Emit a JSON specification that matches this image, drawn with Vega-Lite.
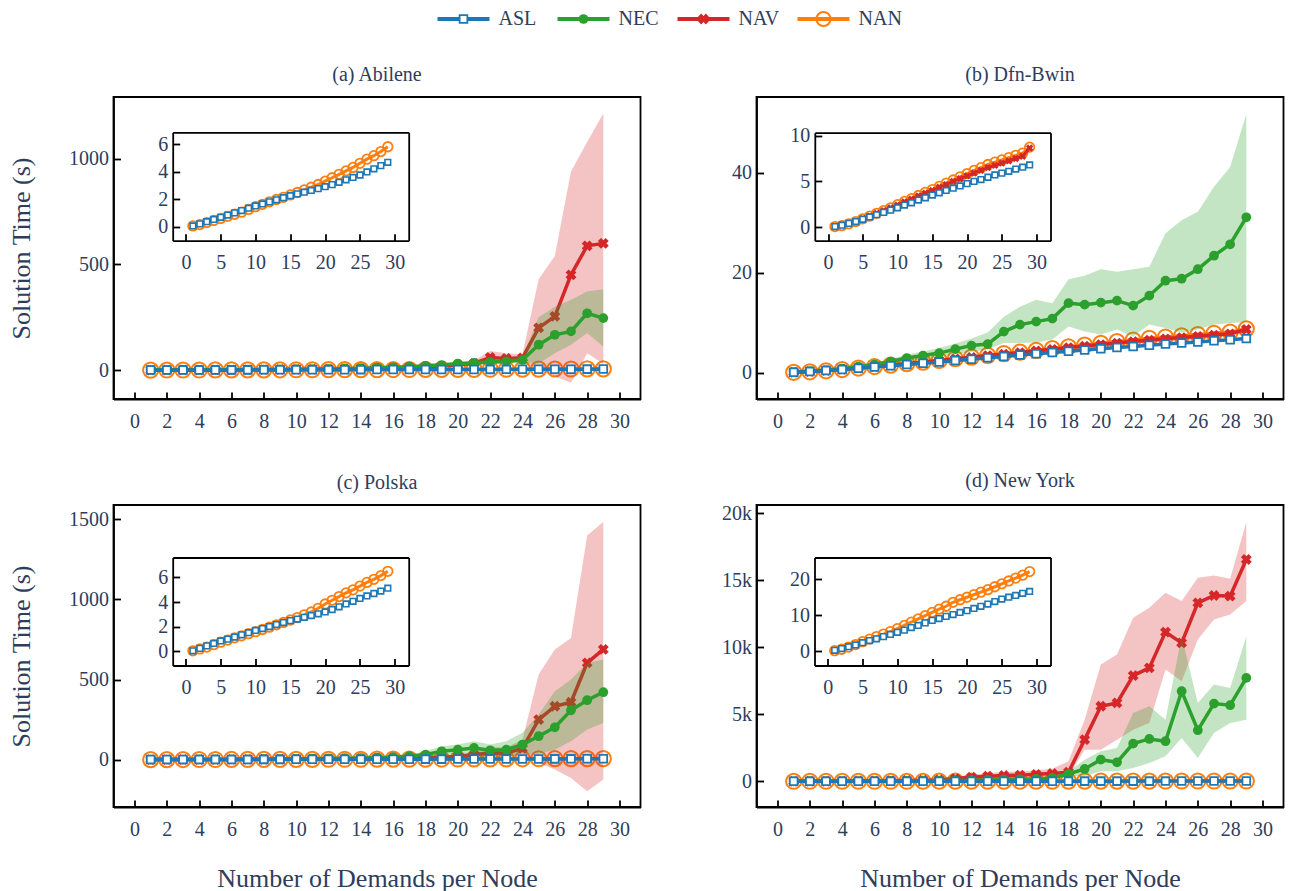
{
"$schema":"https://vega.github.io/schema/vega-lite/v6.json",
"background":"white",
"padding":{"left":7.5,"top":7,"right":5,"bottom":5},
"config":{
 "font":"Liberation Serif",
 "view":{"stroke":"black","strokeWidth":1.8},
 "axis":{"grid":false,"domainColor":"black","domainWidth":1.8,"tickColor":"black","tickWidth":1.8,"tickSize":-7,"labelColor":"#2e3d5c","labelFontSize":20,"labelFont":"Liberation Serif","titleColor":"#2e3d5c","titleFontSize":26,"titleFont":"Liberation Serif","titleFontWeight":"normal","labelOverlap":false,"labelFlush":false,"format":"d"},
 "axisX":{"labelPadding":19,"titlePadding":26},
 "axisY":{"labelPadding":12,"titlePadding":34},
 "title":{"fontSize":20,"fontWeight":"normal","color":"#2e3d5c","font":"Liberation Serif","offset":12}
},
"datasets":{"d":[
{"p":"a","s":"ASL","x":1,"y":0.05},{"p":"a","s":"ASL","x":2,"y":0.2},{"p":"a","s":"ASL","x":3,"y":0.36},{"p":"a","s":"ASL","x":4,"y":0.52},{"p":"a","s":"ASL","x":5,"y":0.68},{"p":"a","s":"ASL","x":6,"y":0.84},{"p":"a","s":"ASL","x":7,"y":1.0},{"p":"a","s":"ASL","x":8,"y":1.17},{"p":"a","s":"ASL","x":9,"y":1.34},{"p":"a","s":"ASL","x":10,"y":1.5},{"p":"a","s":"ASL","x":11,"y":1.65},{"p":"a","s":"ASL","x":12,"y":1.8},{"p":"a","s":"ASL","x":13,"y":1.95},{"p":"a","s":"ASL","x":14,"y":2.1},{"p":"a","s":"ASL","x":15,"y":2.25},{"p":"a","s":"ASL","x":16,"y":2.38},{"p":"a","s":"ASL","x":17,"y":2.5},{"p":"a","s":"ASL","x":18,"y":2.63},{"p":"a","s":"ASL","x":19,"y":2.76},{"p":"a","s":"ASL","x":20,"y":2.9},{"p":"a","s":"ASL","x":21,"y":3.05},{"p":"a","s":"ASL","x":22,"y":3.22},{"p":"a","s":"ASL","x":23,"y":3.4},{"p":"a","s":"ASL","x":24,"y":3.57},{"p":"a","s":"ASL","x":25,"y":3.75},{"p":"a","s":"ASL","x":26,"y":3.97},{"p":"a","s":"ASL","x":27,"y":4.2},{"p":"a","s":"ASL","x":28,"y":4.43},{"p":"a","s":"ASL","x":29,"y":4.67},
{"p":"a","s":"NAN","x":1,"y":0.05},{"p":"a","s":"NAN","x":2,"y":0.15},{"p":"a","s":"NAN","x":3,"y":0.3},{"p":"a","s":"NAN","x":4,"y":0.45},{"p":"a","s":"NAN","x":5,"y":0.6},{"p":"a","s":"NAN","x":6,"y":0.75},{"p":"a","s":"NAN","x":7,"y":0.9},{"p":"a","s":"NAN","x":8,"y":1.05},{"p":"a","s":"NAN","x":9,"y":1.25},{"p":"a","s":"NAN","x":10,"y":1.45},{"p":"a","s":"NAN","x":11,"y":1.62},{"p":"a","s":"NAN","x":12,"y":1.8},{"p":"a","s":"NAN","x":13,"y":1.97},{"p":"a","s":"NAN","x":14,"y":2.13},{"p":"a","s":"NAN","x":15,"y":2.3},{"p":"a","s":"NAN","x":16,"y":2.48},{"p":"a","s":"NAN","x":17,"y":2.67},{"p":"a","s":"NAN","x":18,"y":2.86},{"p":"a","s":"NAN","x":19,"y":3.06},{"p":"a","s":"NAN","x":20,"y":3.3},{"p":"a","s":"NAN","x":21,"y":3.55},{"p":"a","s":"NAN","x":22,"y":3.8},{"p":"a","s":"NAN","x":23,"y":4.05},{"p":"a","s":"NAN","x":24,"y":4.3},{"p":"a","s":"NAN","x":25,"y":4.6},{"p":"a","s":"NAN","x":26,"y":4.9},{"p":"a","s":"NAN","x":27,"y":5.15},{"p":"a","s":"NAN","x":28,"y":5.45},{"p":"a","s":"NAN","x":29,"y":5.8},
{"p":"a","s":"NEC","x":1,"y":0.05,"lo":0.03,"hi":0.08},{"p":"a","s":"NEC","x":2,"y":0.2,"lo":0.1,"hi":0.3},{"p":"a","s":"NEC","x":3,"y":0.4,"lo":0.25,"hi":0.6},{"p":"a","s":"NEC","x":4,"y":0.7,"lo":0.45,"hi":1},{"p":"a","s":"NEC","x":5,"y":1,"lo":0.7,"hi":1.4},{"p":"a","s":"NEC","x":6,"y":1.4,"lo":1,"hi":2},{"p":"a","s":"NEC","x":7,"y":1.9,"lo":1.3,"hi":2.7},{"p":"a","s":"NEC","x":8,"y":2.5,"lo":1.7,"hi":3.5},{"p":"a","s":"NEC","x":9,"y":3.2,"lo":2.2,"hi":4.5},{"p":"a","s":"NEC","x":10,"y":4,"lo":2.8,"hi":5.6},{"p":"a","s":"NEC","x":11,"y":5,"lo":3.5,"hi":7},{"p":"a","s":"NEC","x":12,"y":6,"lo":4.2,"hi":8.5},{"p":"a","s":"NEC","x":13,"y":7.5,"lo":5.2,"hi":10.5},{"p":"a","s":"NEC","x":14,"y":9,"lo":6.3,"hi":12.6},{"p":"a","s":"NEC","x":15,"y":11,"lo":7.7,"hi":15},{"p":"a","s":"NEC","x":16,"y":13,"lo":9,"hi":18},{"p":"a","s":"NEC","x":17,"y":16,"lo":11,"hi":22},{"p":"a","s":"NEC","x":18,"y":20,"lo":14,"hi":28},{"p":"a","s":"NEC","x":19,"y":24,"lo":17,"hi":33},{"p":"a","s":"NEC","x":20,"y":30,"lo":21,"hi":40},{"p":"a","s":"NEC","x":21,"y":34,"lo":24,"hi":46},{"p":"a","s":"NEC","x":22,"y":38,"lo":27,"hi":52},{"p":"a","s":"NEC","x":23,"y":41,"lo":30,"hi":55},{"p":"a","s":"NEC","x":24,"y":48,"lo":36,"hi":62},{"p":"a","s":"NEC","x":25,"y":120,"lo":30,"hi":250},{"p":"a","s":"NEC","x":26,"y":167,"lo":80,"hi":300},{"p":"a","s":"NEC","x":27,"y":183,"lo":120,"hi":333},{"p":"a","s":"NEC","x":28,"y":269,"lo":175,"hi":372},{"p":"a","s":"NEC","x":29,"y":246,"lo":110,"hi":383},
{"p":"a","s":"NAV","x":1,"y":0.05,"lo":0.03,"hi":0.08},{"p":"a","s":"NAV","x":2,"y":0.15,"lo":0.1,"hi":0.22},{"p":"a","s":"NAV","x":3,"y":0.3,"lo":0.2,"hi":0.45},{"p":"a","s":"NAV","x":4,"y":0.5,"lo":0.35,"hi":0.7},{"p":"a","s":"NAV","x":5,"y":0.8,"lo":0.55,"hi":1.1},{"p":"a","s":"NAV","x":6,"y":1.1,"lo":0.8,"hi":1.5},{"p":"a","s":"NAV","x":7,"y":1.5,"lo":1,"hi":2.1},{"p":"a","s":"NAV","x":8,"y":2,"lo":1.4,"hi":2.8},{"p":"a","s":"NAV","x":9,"y":2.5,"lo":1.8,"hi":3.5},{"p":"a","s":"NAV","x":10,"y":3.1,"lo":2.2,"hi":4.3},{"p":"a","s":"NAV","x":11,"y":3.8,"lo":2.7,"hi":5.3},{"p":"a","s":"NAV","x":12,"y":4.6,"lo":3.2,"hi":6.5},{"p":"a","s":"NAV","x":13,"y":5.5,"lo":3.9,"hi":7.7},{"p":"a","s":"NAV","x":14,"y":6.5,"lo":4.6,"hi":9},{"p":"a","s":"NAV","x":15,"y":8,"lo":5.6,"hi":11},{"p":"a","s":"NAV","x":16,"y":10,"lo":7,"hi":14},{"p":"a","s":"NAV","x":17,"y":12,"lo":8.5,"hi":17},{"p":"a","s":"NAV","x":18,"y":15,"lo":10.5,"hi":21},{"p":"a","s":"NAV","x":19,"y":19,"lo":13,"hi":27},{"p":"a","s":"NAV","x":20,"y":25,"lo":17,"hi":35},{"p":"a","s":"NAV","x":21,"y":32,"lo":22,"hi":45},{"p":"a","s":"NAV","x":22,"y":60,"lo":35,"hi":90},{"p":"a","s":"NAV","x":23,"y":55,"lo":30,"hi":80},{"p":"a","s":"NAV","x":24,"y":58,"lo":40,"hi":75},{"p":"a","s":"NAV","x":25,"y":200,"lo":0,"hi":430},{"p":"a","s":"NAV","x":26,"y":254,"lo":-30,"hi":540},{"p":"a","s":"NAV","x":27,"y":451,"lo":-60,"hi":940},{"p":"a","s":"NAV","x":28,"y":588,"lo":80,"hi":1080},{"p":"a","s":"NAV","x":29,"y":600,"lo":30,"hi":1215},
{"p":"b","s":"ASL","x":1,"y":0.05},{"p":"b","s":"ASL","x":2,"y":0.2},{"p":"b","s":"ASL","x":3,"y":0.4},{"p":"b","s":"ASL","x":4,"y":0.6},{"p":"b","s":"ASL","x":5,"y":0.85},{"p":"b","s":"ASL","x":6,"y":1.1},{"p":"b","s":"ASL","x":7,"y":1.35},{"p":"b","s":"ASL","x":8,"y":1.6},{"p":"b","s":"ASL","x":9,"y":1.85},{"p":"b","s":"ASL","x":10,"y":2.1},{"p":"b","s":"ASL","x":11,"y":2.4},{"p":"b","s":"ASL","x":12,"y":2.65},{"p":"b","s":"ASL","x":13,"y":2.95},{"p":"b","s":"ASL","x":14,"y":3.2},{"p":"b","s":"ASL","x":15,"y":3.5},{"p":"b","s":"ASL","x":16,"y":3.75},{"p":"b","s":"ASL","x":17,"y":4},{"p":"b","s":"ASL","x":18,"y":4.25},{"p":"b","s":"ASL","x":19,"y":4.5},{"p":"b","s":"ASL","x":20,"y":4.75},{"p":"b","s":"ASL","x":21,"y":5},{"p":"b","s":"ASL","x":22,"y":5.2},{"p":"b","s":"ASL","x":23,"y":5.45},{"p":"b","s":"ASL","x":24,"y":5.7},{"p":"b","s":"ASL","x":25,"y":5.9},{"p":"b","s":"ASL","x":26,"y":6.1},{"p":"b","s":"ASL","x":27,"y":6.35},{"p":"b","s":"ASL","x":28,"y":6.55},{"p":"b","s":"ASL","x":29,"y":6.8},
{"p":"b","s":"NAN","x":1,"y":0.05},{"p":"b","s":"NAN","x":2,"y":0.15},{"p":"b","s":"NAN","x":3,"y":0.35},{"p":"b","s":"NAN","x":4,"y":0.6},{"p":"b","s":"NAN","x":5,"y":0.9},{"p":"b","s":"NAN","x":6,"y":1.2},{"p":"b","s":"NAN","x":7,"y":1.5},{"p":"b","s":"NAN","x":8,"y":1.8},{"p":"b","s":"NAN","x":9,"y":2.1},{"p":"b","s":"NAN","x":10,"y":2.45},{"p":"b","s":"NAN","x":11,"y":2.8},{"p":"b","s":"NAN","x":12,"y":3.1},{"p":"b","s":"NAN","x":13,"y":3.45},{"p":"b","s":"NAN","x":14,"y":3.8},{"p":"b","s":"NAN","x":15,"y":4.1},{"p":"b","s":"NAN","x":16,"y":4.45},{"p":"b","s":"NAN","x":17,"y":4.8},{"p":"b","s":"NAN","x":18,"y":5.15},{"p":"b","s":"NAN","x":19,"y":5.5},{"p":"b","s":"NAN","x":20,"y":5.85},{"p":"b","s":"NAN","x":21,"y":6.2},{"p":"b","s":"NAN","x":22,"y":6.5},{"p":"b","s":"NAN","x":23,"y":6.85},{"p":"b","s":"NAN","x":24,"y":7.1},{"p":"b","s":"NAN","x":25,"y":7.35},{"p":"b","s":"NAN","x":26,"y":7.6},{"p":"b","s":"NAN","x":27,"y":7.85},{"p":"b","s":"NAN","x":28,"y":8.1},{"p":"b","s":"NAN","x":29,"y":8.75},
{"p":"b","s":"NAV","x":1,"y":0.05,"lo":0.04,"hi":0.06},{"p":"b","s":"NAV","x":2,"y":0.2,"lo":0.18,"hi":0.22},{"p":"b","s":"NAV","x":3,"y":0.4,"lo":0.37,"hi":0.43},{"p":"b","s":"NAV","x":4,"y":0.65,"lo":0.6,"hi":0.7},{"p":"b","s":"NAV","x":5,"y":0.9,"lo":0.84,"hi":0.96},{"p":"b","s":"NAV","x":6,"y":1.2,"lo":1.12,"hi":1.28},{"p":"b","s":"NAV","x":7,"y":1.5,"lo":1.4,"hi":1.6},{"p":"b","s":"NAV","x":8,"y":1.8,"lo":1.67,"hi":1.93},{"p":"b","s":"NAV","x":9,"y":2.1,"lo":1.95,"hi":2.25},{"p":"b","s":"NAV","x":10,"y":2.4,"lo":2.23,"hi":2.57},{"p":"b","s":"NAV","x":11,"y":2.75,"lo":2.56,"hi":2.94},{"p":"b","s":"NAV","x":12,"y":3.05,"lo":2.84,"hi":3.26},{"p":"b","s":"NAV","x":13,"y":3.4,"lo":3.16,"hi":3.64},{"p":"b","s":"NAV","x":14,"y":3.7,"lo":3.44,"hi":3.96},{"p":"b","s":"NAV","x":15,"y":4,"lo":3.72,"hi":4.28},{"p":"b","s":"NAV","x":16,"y":4.35,"lo":4.05,"hi":4.65},{"p":"b","s":"NAV","x":17,"y":4.65,"lo":4.32,"hi":4.98},{"p":"b","s":"NAV","x":18,"y":5,"lo":4.65,"hi":5.35},{"p":"b","s":"NAV","x":19,"y":5.3,"lo":4.93,"hi":5.67},{"p":"b","s":"NAV","x":20,"y":5.6,"lo":5.21,"hi":5.99},{"p":"b","s":"NAV","x":21,"y":5.9,"lo":5.49,"hi":6.31},{"p":"b","s":"NAV","x":22,"y":6.2,"lo":5.77,"hi":6.63},{"p":"b","s":"NAV","x":23,"y":6.5,"lo":6.05,"hi":6.95},{"p":"b","s":"NAV","x":24,"y":6.75,"lo":6.28,"hi":7.22},{"p":"b","s":"NAV","x":25,"y":7,"lo":6.51,"hi":7.49},{"p":"b","s":"NAV","x":26,"y":7.25,"lo":6.74,"hi":7.76},{"p":"b","s":"NAV","x":27,"y":7.5,"lo":6.98,"hi":8.02},{"p":"b","s":"NAV","x":28,"y":7.75,"lo":7.21,"hi":8.29},{"p":"b","s":"NAV","x":29,"y":8.65,"lo":8.04,"hi":9.26},
{"p":"b","s":"NEC","x":1,"y":0.1,"lo":0.05,"hi":0.2},{"p":"b","s":"NEC","x":2,"y":0.3,"lo":0.2,"hi":0.4},{"p":"b","s":"NEC","x":3,"y":0.5,"lo":0.4,"hi":0.65},{"p":"b","s":"NEC","x":4,"y":0.8,"lo":0.6,"hi":1},{"p":"b","s":"NEC","x":5,"y":1.2,"lo":0.9,"hi":1.5},{"p":"b","s":"NEC","x":6,"y":1.6,"lo":1.2,"hi":2},{"p":"b","s":"NEC","x":7,"y":2.2,"lo":1.7,"hi":2.7},{"p":"b","s":"NEC","x":8,"y":2.9,"lo":2.2,"hi":3.6},{"p":"b","s":"NEC","x":9,"y":3.4,"lo":2.6,"hi":4.2},{"p":"b","s":"NEC","x":10,"y":3.9,"lo":3,"hi":4.9},{"p":"b","s":"NEC","x":11,"y":4.7,"lo":3.6,"hi":5.8},{"p":"b","s":"NEC","x":12,"y":5.4,"lo":4.1,"hi":6.8},{"p":"b","s":"NEC","x":13,"y":5.7,"lo":4.6,"hi":8},{"p":"b","s":"NEC","x":14,"y":8.2,"lo":5.9,"hi":11.2},{"p":"b","s":"NEC","x":15,"y":9.6,"lo":5.9,"hi":13.2},{"p":"b","s":"NEC","x":16,"y":10.2,"lo":6,"hi":14.6},{"p":"b","s":"NEC","x":17,"y":10.8,"lo":6.6,"hi":13.9},{"p":"b","s":"NEC","x":18,"y":13.9,"lo":9.2,"hi":18.7},{"p":"b","s":"NEC","x":19,"y":13.6,"lo":8.2,"hi":19.4},{"p":"b","s":"NEC","x":20,"y":14,"lo":7.6,"hi":20.7},{"p":"b","s":"NEC","x":21,"y":14.4,"lo":8.6,"hi":20.2},{"p":"b","s":"NEC","x":22,"y":13.4,"lo":7.2,"hi":20.7},{"p":"b","s":"NEC","x":23,"y":15.4,"lo":9.6,"hi":21.2},{"p":"b","s":"NEC","x":24,"y":18.4,"lo":8.9,"hi":27.9},{"p":"b","s":"NEC","x":25,"y":18.8,"lo":8,"hi":30.5},{"p":"b","s":"NEC","x":26,"y":20.7,"lo":8.6,"hi":32.2},{"p":"b","s":"NEC","x":27,"y":23.4,"lo":9.6,"hi":37.2},{"p":"b","s":"NEC","x":28,"y":25.7,"lo":9.9,"hi":41.2},{"p":"b","s":"NEC","x":29,"y":31.1,"lo":10.2,"hi":51.8},
{"p":"c","s":"ASL","x":1,"y":0.05},{"p":"c","s":"ASL","x":2,"y":0.25},{"p":"c","s":"ASL","x":3,"y":0.45},{"p":"c","s":"ASL","x":4,"y":0.65},{"p":"c","s":"ASL","x":5,"y":0.85},{"p":"c","s":"ASL","x":6,"y":1},{"p":"c","s":"ASL","x":7,"y":1.17},{"p":"c","s":"ASL","x":8,"y":1.35},{"p":"c","s":"ASL","x":9,"y":1.52},{"p":"c","s":"ASL","x":10,"y":1.7},{"p":"c","s":"ASL","x":11,"y":1.86},{"p":"c","s":"ASL","x":12,"y":2.02},{"p":"c","s":"ASL","x":13,"y":2.18},{"p":"c","s":"ASL","x":14,"y":2.34},{"p":"c","s":"ASL","x":15,"y":2.5},{"p":"c","s":"ASL","x":16,"y":2.63},{"p":"c","s":"ASL","x":17,"y":2.77},{"p":"c","s":"ASL","x":18,"y":2.91},{"p":"c","s":"ASL","x":19,"y":3.05},{"p":"c","s":"ASL","x":20,"y":3.2},{"p":"c","s":"ASL","x":21,"y":3.4},{"p":"c","s":"ASL","x":22,"y":3.62},{"p":"c","s":"ASL","x":23,"y":3.85},{"p":"c","s":"ASL","x":24,"y":4.07},{"p":"c","s":"ASL","x":25,"y":4.3},{"p":"c","s":"ASL","x":26,"y":4.5},{"p":"c","s":"ASL","x":27,"y":4.7},{"p":"c","s":"ASL","x":28,"y":4.9},{"p":"c","s":"ASL","x":29,"y":5.13},
{"p":"c","s":"NAN","x":1,"y":0.05},{"p":"c","s":"NAN","x":2,"y":0.2},{"p":"c","s":"NAN","x":3,"y":0.35},{"p":"c","s":"NAN","x":4,"y":0.55},{"p":"c","s":"NAN","x":5,"y":0.75},{"p":"c","s":"NAN","x":6,"y":0.92},{"p":"c","s":"NAN","x":7,"y":1.1},{"p":"c","s":"NAN","x":8,"y":1.27},{"p":"c","s":"NAN","x":9,"y":1.44},{"p":"c","s":"NAN","x":10,"y":1.6},{"p":"c","s":"NAN","x":11,"y":1.78},{"p":"c","s":"NAN","x":12,"y":1.97},{"p":"c","s":"NAN","x":13,"y":2.16},{"p":"c","s":"NAN","x":14,"y":2.35},{"p":"c","s":"NAN","x":15,"y":2.55},{"p":"c","s":"NAN","x":16,"y":2.75},{"p":"c","s":"NAN","x":17,"y":2.97},{"p":"c","s":"NAN","x":18,"y":3.2},{"p":"c","s":"NAN","x":19,"y":3.5},{"p":"c","s":"NAN","x":20,"y":3.85},{"p":"c","s":"NAN","x":21,"y":4.15},{"p":"c","s":"NAN","x":22,"y":4.45},{"p":"c","s":"NAN","x":23,"y":4.75},{"p":"c","s":"NAN","x":24,"y":5},{"p":"c","s":"NAN","x":25,"y":5.3},{"p":"c","s":"NAN","x":26,"y":5.6},{"p":"c","s":"NAN","x":27,"y":5.85},{"p":"c","s":"NAN","x":28,"y":6.15},{"p":"c","s":"NAN","x":29,"y":6.5},
{"p":"c","s":"NEC","x":1,"y":0.05,"lo":0.03,"hi":0.08},{"p":"c","s":"NEC","x":2,"y":0.2,"lo":0.1,"hi":0.3},{"p":"c","s":"NEC","x":3,"y":0.4,"lo":0.25,"hi":0.6},{"p":"c","s":"NEC","x":4,"y":0.7,"lo":0.45,"hi":1},{"p":"c","s":"NEC","x":5,"y":1,"lo":0.7,"hi":1.4},{"p":"c","s":"NEC","x":6,"y":1.5,"lo":1,"hi":2.1},{"p":"c","s":"NEC","x":7,"y":2,"lo":1.4,"hi":2.8},{"p":"c","s":"NEC","x":8,"y":2.7,"lo":1.9,"hi":3.8},{"p":"c","s":"NEC","x":9,"y":3.5,"lo":2.4,"hi":4.9},{"p":"c","s":"NEC","x":10,"y":4.5,"lo":3.1,"hi":6.3},{"p":"c","s":"NEC","x":11,"y":5.5,"lo":3.8,"hi":7.7},{"p":"c","s":"NEC","x":12,"y":7,"lo":4.9,"hi":9.8},{"p":"c","s":"NEC","x":13,"y":8.5,"lo":6,"hi":12},{"p":"c","s":"NEC","x":14,"y":10,"lo":7,"hi":14},{"p":"c","s":"NEC","x":15,"y":12,"lo":8.4,"hi":17},{"p":"c","s":"NEC","x":16,"y":15,"lo":10.5,"hi":21},{"p":"c","s":"NEC","x":17,"y":22,"lo":15,"hi":31},{"p":"c","s":"NEC","x":18,"y":31,"lo":10,"hi":52},{"p":"c","s":"NEC","x":19,"y":52,"lo":12,"hi":83},{"p":"c","s":"NEC","x":20,"y":62,"lo":15,"hi":94},{"p":"c","s":"NEC","x":21,"y":73,"lo":21,"hi":115},{"p":"c","s":"NEC","x":22,"y":58,"lo":10,"hi":94},{"p":"c","s":"NEC","x":23,"y":62,"lo":21,"hi":115},{"p":"c","s":"NEC","x":24,"y":94,"lo":35,"hi":167},{"p":"c","s":"NEC","x":25,"y":146,"lo":35,"hi":281},{"p":"c","s":"NEC","x":26,"y":202,"lo":62,"hi":427},{"p":"c","s":"NEC","x":27,"y":308,"lo":115,"hi":500},{"p":"c","s":"NEC","x":28,"y":371,"lo":188,"hi":604},{"p":"c","s":"NEC","x":29,"y":421,"lo":229,"hi":625},
{"p":"c","s":"NAV","x":1,"y":0.05,"lo":0.03,"hi":0.07},{"p":"c","s":"NAV","x":2,"y":0.2,"lo":0.14,"hi":0.28},{"p":"c","s":"NAV","x":3,"y":0.4,"lo":0.28,"hi":0.56},{"p":"c","s":"NAV","x":4,"y":0.6,"lo":0.42,"hi":0.84},{"p":"c","s":"NAV","x":5,"y":0.9,"lo":0.63,"hi":1.26},{"p":"c","s":"NAV","x":6,"y":1.2,"lo":0.84,"hi":1.68},{"p":"c","s":"NAV","x":7,"y":1.6,"lo":1.1,"hi":2.24},{"p":"c","s":"NAV","x":8,"y":2,"lo":1.4,"hi":2.8},{"p":"c","s":"NAV","x":9,"y":2.5,"lo":1.75,"hi":3.5},{"p":"c","s":"NAV","x":10,"y":3,"lo":2.1,"hi":4.2},{"p":"c","s":"NAV","x":11,"y":3.6,"lo":2.5,"hi":5},{"p":"c","s":"NAV","x":12,"y":4.3,"lo":3,"hi":6},{"p":"c","s":"NAV","x":13,"y":5,"lo":3.5,"hi":7},{"p":"c","s":"NAV","x":14,"y":6,"lo":4.2,"hi":8.4},{"p":"c","s":"NAV","x":15,"y":7,"lo":4.9,"hi":9.8},{"p":"c","s":"NAV","x":16,"y":8,"lo":5.6,"hi":11.2},{"p":"c","s":"NAV","x":17,"y":10,"lo":7,"hi":14},{"p":"c","s":"NAV","x":18,"y":12,"lo":8.4,"hi":16.8},{"p":"c","s":"NAV","x":19,"y":15,"lo":10.5,"hi":21},{"p":"c","s":"NAV","x":20,"y":20,"lo":14,"hi":28},{"p":"c","s":"NAV","x":21,"y":30,"lo":15,"hi":50},{"p":"c","s":"NAV","x":22,"y":42,"lo":20,"hi":80},{"p":"c","s":"NAV","x":23,"y":40,"lo":15,"hi":75},{"p":"c","s":"NAV","x":24,"y":70,"lo":21,"hi":125},{"p":"c","s":"NAV","x":25,"y":250,"lo":-21,"hi":531},{"p":"c","s":"NAV","x":26,"y":333,"lo":-62,"hi":688},{"p":"c","s":"NAV","x":27,"y":358,"lo":-115,"hi":760},{"p":"c","s":"NAV","x":28,"y":604,"lo":-198,"hi":1400},{"p":"c","s":"NAV","x":29,"y":688,"lo":-125,"hi":1484},
{"p":"d","s":"ASL","x":1,"y":0.3},{"p":"d","s":"ASL","x":2,"y":0.8},{"p":"d","s":"ASL","x":3,"y":1.3},{"p":"d","s":"ASL","x":4,"y":1.8},{"p":"d","s":"ASL","x":5,"y":2.4},{"p":"d","s":"ASL","x":6,"y":3},{"p":"d","s":"ASL","x":7,"y":3.5},{"p":"d","s":"ASL","x":8,"y":4.1},{"p":"d","s":"ASL","x":9,"y":4.7},{"p":"d","s":"ASL","x":10,"y":5.3},{"p":"d","s":"ASL","x":11,"y":5.9},{"p":"d","s":"ASL","x":12,"y":6.6},{"p":"d","s":"ASL","x":13,"y":7.2},{"p":"d","s":"ASL","x":14,"y":7.9},{"p":"d","s":"ASL","x":15,"y":8.6},{"p":"d","s":"ASL","x":16,"y":9.1},{"p":"d","s":"ASL","x":17,"y":9.7},{"p":"d","s":"ASL","x":18,"y":10.2},{"p":"d","s":"ASL","x":19,"y":10.8},{"p":"d","s":"ASL","x":20,"y":11.3},{"p":"d","s":"ASL","x":21,"y":11.9},{"p":"d","s":"ASL","x":22,"y":12.5},{"p":"d","s":"ASL","x":23,"y":13.1},{"p":"d","s":"ASL","x":24,"y":13.8},{"p":"d","s":"ASL","x":25,"y":14.5},{"p":"d","s":"ASL","x":26,"y":15},{"p":"d","s":"ASL","x":27,"y":15.5},{"p":"d","s":"ASL","x":28,"y":16.1},{"p":"d","s":"ASL","x":29,"y":16.6},
{"p":"d","s":"NAN","x":1,"y":0.2},{"p":"d","s":"NAN","x":2,"y":0.6},{"p":"d","s":"NAN","x":3,"y":1.2},{"p":"d","s":"NAN","x":4,"y":1.9},{"p":"d","s":"NAN","x":5,"y":2.7},{"p":"d","s":"NAN","x":6,"y":3.4},{"p":"d","s":"NAN","x":7,"y":4.1},{"p":"d","s":"NAN","x":8,"y":4.8},{"p":"d","s":"NAN","x":9,"y":5.5},{"p":"d","s":"NAN","x":10,"y":6.3},{"p":"d","s":"NAN","x":11,"y":7.2},{"p":"d","s":"NAN","x":12,"y":8.1},{"p":"d","s":"NAN","x":13,"y":9},{"p":"d","s":"NAN","x":14,"y":9.9},{"p":"d","s":"NAN","x":15,"y":10.8},{"p":"d","s":"NAN","x":16,"y":11.7},{"p":"d","s":"NAN","x":17,"y":12.5},{"p":"d","s":"NAN","x":18,"y":13.6},{"p":"d","s":"NAN","x":19,"y":14.3},{"p":"d","s":"NAN","x":20,"y":15},{"p":"d","s":"NAN","x":21,"y":15.7},{"p":"d","s":"NAN","x":22,"y":16.4},{"p":"d","s":"NAN","x":23,"y":17.1},{"p":"d","s":"NAN","x":24,"y":17.9},{"p":"d","s":"NAN","x":25,"y":18.7},{"p":"d","s":"NAN","x":26,"y":19.5},{"p":"d","s":"NAN","x":27,"y":20.3},{"p":"d","s":"NAN","x":28,"y":21.1},{"p":"d","s":"NAN","x":29,"y":22.1},
{"p":"d","s":"NEC","x":1,"y":1,"lo":0.7,"hi":1.5},{"p":"d","s":"NEC","x":2,"y":3,"lo":2,"hi":4.5},{"p":"d","s":"NEC","x":3,"y":6,"lo":4,"hi":9},{"p":"d","s":"NEC","x":4,"y":10,"lo":7,"hi":15},{"p":"d","s":"NEC","x":5,"y":15,"lo":10,"hi":22},{"p":"d","s":"NEC","x":6,"y":20,"lo":14,"hi":30},{"p":"d","s":"NEC","x":7,"y":28,"lo":20,"hi":42},{"p":"d","s":"NEC","x":8,"y":36,"lo":25,"hi":54},{"p":"d","s":"NEC","x":9,"y":45,"lo":31,"hi":68},{"p":"d","s":"NEC","x":10,"y":55,"lo":38,"hi":82},{"p":"d","s":"NEC","x":11,"y":70,"lo":49,"hi":105},{"p":"d","s":"NEC","x":12,"y":85,"lo":60,"hi":128},{"p":"d","s":"NEC","x":13,"y":100,"lo":70,"hi":150},{"p":"d","s":"NEC","x":14,"y":120,"lo":84,"hi":180},{"p":"d","s":"NEC","x":15,"y":150,"lo":105,"hi":225},{"p":"d","s":"NEC","x":16,"y":180,"lo":126,"hi":270},{"p":"d","s":"NEC","x":17,"y":250,"lo":175,"hi":375},{"p":"d","s":"NEC","x":18,"y":546,"lo":374,"hi":747},{"p":"d","s":"NEC","x":19,"y":920,"lo":374,"hi":1615},{"p":"d","s":"NEC","x":20,"y":1615,"lo":747,"hi":2242},{"p":"d","s":"NEC","x":21,"y":1420,"lo":747,"hi":2489},{"p":"d","s":"NEC","x":22,"y":2810,"lo":994,"hi":5105},{"p":"d","s":"NEC","x":23,"y":3162,"lo":1368,"hi":5605},{"p":"d","s":"NEC","x":24,"y":2990,"lo":1868,"hi":4604},{"p":"d","s":"NEC","x":25,"y":6726,"lo":3236,"hi":10837},{"p":"d","s":"NEC","x":26,"y":3811,"lo":1741,"hi":5852},{"p":"d","s":"NEC","x":27,"y":5800,"lo":3610,"hi":7220},{"p":"d","s":"NEC","x":28,"y":5680,"lo":4357,"hi":6973},{"p":"d","s":"NEC","x":29,"y":7720,"lo":4604,"hi":10837},
{"p":"d","s":"NAV","x":1,"y":1,"lo":0.6,"hi":1.6},{"p":"d","s":"NAV","x":2,"y":3,"lo":1.8,"hi":4.8},{"p":"d","s":"NAV","x":3,"y":6,"lo":3.6,"hi":9.6},{"p":"d","s":"NAV","x":4,"y":10,"lo":6,"hi":16},{"p":"d","s":"NAV","x":5,"y":20,"lo":12,"hi":32},{"p":"d","s":"NAV","x":6,"y":30,"lo":18,"hi":48},{"p":"d","s":"NAV","x":7,"y":45,"lo":27,"hi":72},{"p":"d","s":"NAV","x":8,"y":60,"lo":36,"hi":96},{"p":"d","s":"NAV","x":9,"y":80,"lo":48,"hi":128},{"p":"d","s":"NAV","x":10,"y":100,"lo":60,"hi":160},{"p":"d","s":"NAV","x":11,"y":200,"lo":120,"hi":320},{"p":"d","s":"NAV","x":12,"y":300,"lo":180,"hi":480},{"p":"d","s":"NAV","x":13,"y":380,"lo":228,"hi":608},{"p":"d","s":"NAV","x":14,"y":430,"lo":258,"hi":688},{"p":"d","s":"NAV","x":15,"y":460,"lo":276,"hi":736},{"p":"d","s":"NAV","x":16,"y":520,"lo":312,"hi":832},{"p":"d","s":"NAV","x":17,"y":580,"lo":348,"hi":928},{"p":"d","s":"NAV","x":18,"y":680,"lo":374,"hi":1495},{"p":"d","s":"NAV","x":19,"y":3109,"lo":2362,"hi":4604},{"p":"d","s":"NAV","x":20,"y":5605,"lo":2362,"hi":8715},{"p":"d","s":"NAV","x":21,"y":5852,"lo":3109,"hi":9462},{"p":"d","s":"NAV","x":22,"y":7893,"lo":3856,"hi":12205},{"p":"d","s":"NAV","x":23,"y":8468,"lo":4360,"hi":12952},{"p":"d","s":"NAV","x":24,"y":11136,"lo":8341,"hi":14073},{"p":"d","s":"NAV","x":25,"y":10336,"lo":7474,"hi":13453},{"p":"d","s":"NAV","x":26,"y":13326,"lo":10583,"hi":15195},{"p":"d","s":"NAV","x":27,"y":13872,"lo":12078,"hi":15367},{"p":"d","s":"NAV","x":28,"y":13827,"lo":12452,"hi":15120},{"p":"d","s":"NAV","x":29,"y":16563,"lo":13453,"hi":19357}
]},
"bounds":"flush",
"spacing":68,
"vconcat":[
{
 "data":{"values":[{"s":"ASL"},{"s":"NEC"},{"s":"NAV"},{"s":"NAN"}]},
 "width":1170,"height":20,
 "view":{"stroke":null},
 "encoding":{"x":{"field":"s","type":"nominal","scale":{"domain":["ASL","NEC","NAV","NAN"],"range":[290,770],"paddingInner":0,"paddingOuter":0},"axis":null}},
 "layer":[
  {"mark":{"type":"tick","orient":"horizontal","size":52,"thickness":4,"opacity":1},"encoding":{"color":{"field":"s","type":"nominal","scale":{"domain":["ASL","NEC","NAV","NAN"],"range":["#1f77b4","#2ca02c","#d62728","#ff7f0e"]},"legend":null}}},
  {"transform":[{"filter":"datum.s == 'ASL'"}],"mark":{"type":"point","shape":"square","filled":true,"fill":"white","stroke":"#1f77b4","strokeWidth":1.8,"size":60,"opacity":1}},
  {"transform":[{"filter":"datum.s == 'NEC'"}],"mark":{"type":"point","shape":"circle","filled":true,"color":"#2ca02c","size":95,"opacity":1}},
  {"transform":[{"filter":"datum.s == 'NAV'"}],"mark":{"type":"point","shape":"cross","angle":45,"filled":true,"color":"#d62728","size":120,"opacity":1}},
  {"transform":[{"filter":"datum.s == 'NAN'"}],"mark":{"type":"point","shape":"circle","filled":false,"color":"#ff7f0e","strokeWidth":2,"size":200,"opacity":1}},
  {"mark":{"type":"text","align":"left","baseline":"middle","dx":35,"fontSize":20,"color":"#2e3d5c"},"encoding":{"text":{"field":"s"}}}
 ]
},
{
 "columns":2,
 "bounds":"flush",
 "spacing":{"row":106,"column":116},
 "concat":[
 {
  "title":{"text":"(a) Abilene"},
  "width":527,"height":302,
  "data":{"name":"d"},
  "transform":[{"filter":"datum.p == 'a'"}],
  "layer":[
   {
    "encoding":{"x":{"field":"x","type":"quantitative","scale":{"domain":[-1.3,31.3],"nice":false,"zero":false},"axis":{"orient":"bottom","values":[0,2,4,6,8,10,12,14,16,18,20,22,24,26,28,30],"title":null}}},
    "layer":[
     {"transform":[{"filter":"datum.s == 'NAN'"}],"mark":{"type":"line","color":"#ff7f0e","strokeWidth":3.5,"point":{"shape":"circle","filled":false,"color":"#ff7f0e","strokeWidth":2,"size":230,"opacity":1}},"encoding":{"y":{"field":"y","type":"quantitative","scale":{"domain":[-137,1293],"nice":false,"zero":false},"axis":{"orient":"left","values":[0,500,1000],"title":"Solution Time (s)"}}}},
     {"transform":[{"filter":"datum.s == 'NAV'"}],"mark":{"type":"area","color":"#d62728","opacity":0.28},"encoding":{"y":{"field":"lo","type":"quantitative","scale":{"domain":[-137,1293],"nice":false,"zero":false},"axis":{"orient":"left","values":[0,500,1000],"title":"Solution Time (s)"}},"y2":{"field":"hi"}}},
     {"transform":[{"filter":"datum.s == 'NAV'"}],"mark":{"type":"line","color":"#d62728","strokeWidth":3.5,"point":{"shape":"cross","angle":45,"filled":true,"color":"#d62728","size":120,"opacity":1}},"encoding":{"y":{"field":"y","type":"quantitative","scale":{"domain":[-137,1293],"nice":false,"zero":false},"axis":{"orient":"left","values":[0,500,1000],"title":"Solution Time (s)"}}}},
     {"transform":[{"filter":"datum.s == 'NEC'"}],"mark":{"type":"area","color":"#2ca02c","opacity":0.28},"encoding":{"y":{"field":"lo","type":"quantitative","scale":{"domain":[-137,1293],"nice":false,"zero":false},"axis":{"orient":"left","values":[0,500,1000],"title":"Solution Time (s)"}},"y2":{"field":"hi"}}},
     {"transform":[{"filter":"datum.s == 'NEC'"}],"mark":{"type":"line","color":"#2ca02c","strokeWidth":3.5,"point":{"shape":"circle","filled":true,"color":"#2ca02c","size":95,"opacity":1}},"encoding":{"y":{"field":"y","type":"quantitative","scale":{"domain":[-137,1293],"nice":false,"zero":false},"axis":{"orient":"left","values":[0,500,1000],"title":"Solution Time (s)"}}}},
     {"transform":[{"filter":"datum.s == 'ASL'"}],"mark":{"type":"line","color":"#1f77b4","strokeWidth":3.5,"point":{"shape":"square","filled":true,"fill":"white","stroke":"#1f77b4","strokeWidth":1.8,"size":60,"opacity":1}},"encoding":{"y":{"field":"y","type":"quantitative","scale":{"domain":[-137,1293],"nice":false,"zero":false},"axis":{"orient":"left","values":[0,500,1000],"title":"Solution Time (s)"}}}}
    ]
   },
   {
    "layer":[
     {"transform":[{"filter":"datum.s == 'NAN'"}],"mark":{"type":"line","color":"#ff7f0e","strokeWidth":3,"point":{"shape":"circle","filled":false,"color":"#ff7f0e","strokeWidth":1.8,"size":90,"opacity":1}},
      "encoding":{"x":{"field":"x","type":"quantitative","scale":{"domain":[-1.9,32],"range":[59.2,295.2],"nice":false,"zero":false},"axis":{"orient":"top","offset":-35.3,"labels":false,"ticks":false,"title":null}},
                  "y":{"field":"y","type":"quantitative","scale":{"domain":[-1.02,6.85],"range":[143.7,35.3],"nice":false,"zero":false},"axis":{"orient":"right","offset":-231.8,"labels":false,"ticks":false,"title":null}}}},
     {"transform":[{"filter":"datum.s == 'ASL'"}],"mark":{"type":"line","color":"#1f77b4","strokeWidth":3,"point":{"shape":"square","filled":true,"fill":"white","stroke":"#1f77b4","strokeWidth":1.6,"size":32,"opacity":1}},
      "encoding":{"x":{"field":"x","type":"quantitative","scale":{"domain":[-1.9,32],"range":[59.2,295.2],"nice":false,"zero":false},"axis":{"orient":"bottom","offset":-158.3,"values":[0,5,10,15,20,25,30],"title":null}},
                  "y":{"field":"y","type":"quantitative","scale":{"domain":[-1.02,6.85],"range":[143.7,35.3],"nice":false,"zero":false},"axis":{"orient":"left","offset":-59.2,"values":[0,2,4,6],"title":null}}}}
    ],
    "resolve":{"axis":{"x":"independent","y":"independent"}}
   }
  ],
  "resolve":{"scale":{"x":"independent","y":"independent"},"axis":{"x":"independent","y":"independent"}}
 },
 {
  "title":{"text":"(b) Dfn-Bwin"},
  "width":527,"height":302,
  "data":{"name":"d"},
  "transform":[{"filter":"datum.p == 'b'"}],
  "layer":[
   {
    "encoding":{"x":{"field":"x","type":"quantitative","scale":{"domain":[-1.3,31.3],"nice":false,"zero":false},"axis":{"orient":"bottom","values":[0,2,4,6,8,10,12,14,16,18,20,22,24,26,28,30],"title":null}}},
    "layer":[
     {"transform":[{"filter":"datum.s == 'NAN'"}],"mark":{"type":"line","color":"#ff7f0e","strokeWidth":3.5,"point":{"shape":"circle","filled":false,"color":"#ff7f0e","strokeWidth":2,"size":230,"opacity":1}},"encoding":{"y":{"field":"y","type":"quantitative","scale":{"domain":[-5.3,55.2],"nice":false,"zero":false},"axis":{"orient":"left","values":[0,20,40],"title":null}}}},
     {"transform":[{"filter":"datum.s == 'NAV'"}],"mark":{"type":"area","color":"#d62728","opacity":0.28},"encoding":{"y":{"field":"lo","type":"quantitative","scale":{"domain":[-5.3,55.2],"nice":false,"zero":false},"axis":{"orient":"left","values":[0,20,40],"title":null}},"y2":{"field":"hi"}}},
     {"transform":[{"filter":"datum.s == 'NAV'"}],"mark":{"type":"line","color":"#d62728","strokeWidth":3.5,"point":{"shape":"cross","angle":45,"filled":true,"color":"#d62728","size":120,"opacity":1}},"encoding":{"y":{"field":"y","type":"quantitative","scale":{"domain":[-5.3,55.2],"nice":false,"zero":false},"axis":{"orient":"left","values":[0,20,40],"title":null}}}},
     {"transform":[{"filter":"datum.s == 'NEC'"}],"mark":{"type":"area","color":"#2ca02c","opacity":0.28},"encoding":{"y":{"field":"lo","type":"quantitative","scale":{"domain":[-5.3,55.2],"nice":false,"zero":false},"axis":{"orient":"left","values":[0,20,40],"title":null}},"y2":{"field":"hi"}}},
     {"transform":[{"filter":"datum.s == 'NEC'"}],"mark":{"type":"line","color":"#2ca02c","strokeWidth":3.5,"point":{"shape":"circle","filled":true,"color":"#2ca02c","size":95,"opacity":1}},"encoding":{"y":{"field":"y","type":"quantitative","scale":{"domain":[-5.3,55.2],"nice":false,"zero":false},"axis":{"orient":"left","values":[0,20,40],"title":null}}}},
     {"transform":[{"filter":"datum.s == 'ASL'"}],"mark":{"type":"line","color":"#1f77b4","strokeWidth":3.5,"point":{"shape":"square","filled":true,"fill":"white","stroke":"#1f77b4","strokeWidth":1.8,"size":60,"opacity":1}},"encoding":{"y":{"field":"y","type":"quantitative","scale":{"domain":[-5.3,55.2],"nice":false,"zero":false},"axis":{"orient":"left","values":[0,20,40],"title":null}}}}
    ]
   },
   {
    "layer":[
     {"transform":[{"filter":"datum.s == 'NAN'"}],"mark":{"type":"line","color":"#ff7f0e","strokeWidth":3,"point":{"shape":"circle","filled":false,"color":"#ff7f0e","strokeWidth":1.8,"size":90,"opacity":1}},
      "encoding":{"x":{"field":"x","type":"quantitative","scale":{"domain":[-1.9,32],"range":[58.3,294],"nice":false,"zero":false},"axis":{"orient":"top","offset":-35.7,"labels":false,"ticks":false,"title":null}},
                  "y":{"field":"y","type":"quantitative","scale":{"domain":[-1.5,10.33],"range":[143.7,35.7],"nice":false,"zero":false},"axis":{"orient":"right","offset":-233,"labels":false,"ticks":false,"title":null}}}},
     {"transform":[{"filter":"datum.s == 'NAV'"}],"mark":{"type":"line","color":"#d62728","strokeWidth":3,"point":{"shape":"cross","angle":45,"filled":true,"color":"#d62728","size":55,"opacity":1}},
      "encoding":{"x":{"field":"x","type":"quantitative","scale":{"domain":[-1.9,32],"range":[58.3,294],"nice":false,"zero":false},"axis":null},
                  "y":{"field":"y","type":"quantitative","scale":{"domain":[-1.5,10.33],"range":[143.7,35.7],"nice":false,"zero":false},"axis":null}}},
     {"transform":[{"filter":"datum.s == 'ASL'"}],"mark":{"type":"line","color":"#1f77b4","strokeWidth":3,"point":{"shape":"square","filled":true,"fill":"white","stroke":"#1f77b4","strokeWidth":1.6,"size":32,"opacity":1}},
      "encoding":{"x":{"field":"x","type":"quantitative","scale":{"domain":[-1.9,32],"range":[58.3,294],"nice":false,"zero":false},"axis":{"orient":"bottom","offset":-158.3,"values":[0,5,10,15,20,25,30],"title":null}},
                  "y":{"field":"y","type":"quantitative","scale":{"domain":[-1.5,10.33],"range":[143.7,35.7],"nice":false,"zero":false},"axis":{"orient":"left","offset":-58.3,"values":[0,5,10],"title":null}}}}
    ],
    "resolve":{"axis":{"x":"independent","y":"independent"}}
   }
  ],
  "resolve":{"scale":{"x":"independent","y":"independent"},"axis":{"x":"independent","y":"independent"}}
 },
 {
  "title":{"text":"(c) Polska"},
  "width":527,"height":302,
  "data":{"name":"d"},
  "transform":[{"filter":"datum.p == 'c'"}],
  "layer":[
   {
    "encoding":{"x":{"field":"x","type":"quantitative","scale":{"domain":[-1.3,31.3],"nice":false,"zero":false},"axis":{"orient":"bottom","values":[0,2,4,6,8,10,12,14,16,18,20,22,24,26,28,30],"title":"Number of Demands per Node"}}},
    "layer":[
     {"transform":[{"filter":"datum.s == 'NAN'"}],"mark":{"type":"line","color":"#ff7f0e","strokeWidth":3.5,"point":{"shape":"circle","filled":false,"color":"#ff7f0e","strokeWidth":2,"size":230,"opacity":1}},"encoding":{"y":{"field":"y","type":"quantitative","scale":{"domain":[-296,1590],"nice":false,"zero":false},"axis":{"orient":"left","values":[0,500,1000,1500],"title":"Solution Time (s)"}}}},
     {"transform":[{"filter":"datum.s == 'NAV'"}],"mark":{"type":"area","color":"#d62728","opacity":0.28},"encoding":{"y":{"field":"lo","type":"quantitative","scale":{"domain":[-296,1590],"nice":false,"zero":false},"axis":{"orient":"left","values":[0,500,1000,1500],"title":"Solution Time (s)"}},"y2":{"field":"hi"}}},
     {"transform":[{"filter":"datum.s == 'NAV'"}],"mark":{"type":"line","color":"#d62728","strokeWidth":3.5,"point":{"shape":"cross","angle":45,"filled":true,"color":"#d62728","size":120,"opacity":1}},"encoding":{"y":{"field":"y","type":"quantitative","scale":{"domain":[-296,1590],"nice":false,"zero":false},"axis":{"orient":"left","values":[0,500,1000,1500],"title":"Solution Time (s)"}}}},
     {"transform":[{"filter":"datum.s == 'NEC'"}],"mark":{"type":"area","color":"#2ca02c","opacity":0.28},"encoding":{"y":{"field":"lo","type":"quantitative","scale":{"domain":[-296,1590],"nice":false,"zero":false},"axis":{"orient":"left","values":[0,500,1000,1500],"title":"Solution Time (s)"}},"y2":{"field":"hi"}}},
     {"transform":[{"filter":"datum.s == 'NEC'"}],"mark":{"type":"line","color":"#2ca02c","strokeWidth":3.5,"point":{"shape":"circle","filled":true,"color":"#2ca02c","size":95,"opacity":1}},"encoding":{"y":{"field":"y","type":"quantitative","scale":{"domain":[-296,1590],"nice":false,"zero":false},"axis":{"orient":"left","values":[0,500,1000,1500],"title":"Solution Time (s)"}}}},
     {"transform":[{"filter":"datum.s == 'ASL'"}],"mark":{"type":"line","color":"#1f77b4","strokeWidth":3.5,"point":{"shape":"square","filled":true,"fill":"white","stroke":"#1f77b4","strokeWidth":1.8,"size":60,"opacity":1}},"encoding":{"y":{"field":"y","type":"quantitative","scale":{"domain":[-296,1590],"nice":false,"zero":false},"axis":{"orient":"left","values":[0,500,1000,1500],"title":"Solution Time (s)"}}}}
    ]
   },
   {
    "layer":[
     {"transform":[{"filter":"datum.s == 'NAN'"}],"mark":{"type":"line","color":"#ff7f0e","strokeWidth":3,"point":{"shape":"circle","filled":false,"color":"#ff7f0e","strokeWidth":1.8,"size":90,"opacity":1}},
      "encoding":{"x":{"field":"x","type":"quantitative","scale":{"domain":[-1.9,32],"range":[59.2,295.2],"nice":false,"zero":false},"axis":{"orient":"top","offset":-52.5,"labels":false,"ticks":false,"title":null}},
                  "y":{"field":"y","type":"quantitative","scale":{"domain":[-1.14,7.62],"range":[160.5,52.5],"nice":false,"zero":false},"axis":{"orient":"right","offset":-231.8,"labels":false,"ticks":false,"title":null}}}},
     {"transform":[{"filter":"datum.s == 'ASL'"}],"mark":{"type":"line","color":"#1f77b4","strokeWidth":3,"point":{"shape":"square","filled":true,"fill":"white","stroke":"#1f77b4","strokeWidth":1.6,"size":32,"opacity":1}},
      "encoding":{"x":{"field":"x","type":"quantitative","scale":{"domain":[-1.9,32],"range":[59.2,295.2],"nice":false,"zero":false},"axis":{"orient":"bottom","offset":-141.5,"values":[0,5,10,15,20,25,30],"title":null}},
                  "y":{"field":"y","type":"quantitative","scale":{"domain":[-1.14,7.62],"range":[160.5,52.5],"nice":false,"zero":false},"axis":{"orient":"left","offset":-59.2,"values":[0,2,4,6],"title":null}}}}
    ],
    "resolve":{"axis":{"x":"independent","y":"independent"}}
   }
  ],
  "resolve":{"scale":{"x":"independent","y":"independent"},"axis":{"x":"independent","y":"independent"}}
 },
 {
  "title":{"text":"(d) New York"},
  "width":527,"height":302,
  "data":{"name":"d"},
  "transform":[{"filter":"datum.p == 'd'"}],
  "layer":[
   {
    "encoding":{"x":{"field":"x","type":"quantitative","scale":{"domain":[-1.3,31.3],"nice":false,"zero":false},"axis":{"orient":"bottom","values":[0,2,4,6,8,10,12,14,16,18,20,22,24,26,28,30],"title":"Number of Demands per Node"}}},
    "layer":[
     {"transform":[{"filter":"datum.s == 'NAN'"}],"mark":{"type":"line","color":"#ff7f0e","strokeWidth":3.5,"point":{"shape":"circle","filled":false,"color":"#ff7f0e","strokeWidth":2,"size":230,"opacity":1}},"encoding":{"y":{"field":"y","type":"quantitative","scale":{"domain":[-1920,20630],"nice":false,"zero":false},"axis":{"orient":"left","values":[0,5000,10000,15000,20000],"labelExpr":"datum.value == 0 ? '0' : (datum.value / 1000) + 'k'","title":null}}}},
     {"transform":[{"filter":"datum.s == 'NAV'"}],"mark":{"type":"area","color":"#d62728","opacity":0.28},"encoding":{"y":{"field":"lo","type":"quantitative","scale":{"domain":[-1920,20630],"nice":false,"zero":false},"axis":{"orient":"left","values":[0,5000,10000,15000,20000],"labelExpr":"datum.value == 0 ? '0' : (datum.value / 1000) + 'k'","title":null}},"y2":{"field":"hi"}}},
     {"transform":[{"filter":"datum.s == 'NAV'"}],"mark":{"type":"line","color":"#d62728","strokeWidth":3.5,"point":{"shape":"cross","angle":45,"filled":true,"color":"#d62728","size":120,"opacity":1}},"encoding":{"y":{"field":"y","type":"quantitative","scale":{"domain":[-1920,20630],"nice":false,"zero":false},"axis":{"orient":"left","values":[0,5000,10000,15000,20000],"labelExpr":"datum.value == 0 ? '0' : (datum.value / 1000) + 'k'","title":null}}}},
     {"transform":[{"filter":"datum.s == 'NEC'"}],"mark":{"type":"area","color":"#2ca02c","opacity":0.28},"encoding":{"y":{"field":"lo","type":"quantitative","scale":{"domain":[-1920,20630],"nice":false,"zero":false},"axis":{"orient":"left","values":[0,5000,10000,15000,20000],"labelExpr":"datum.value == 0 ? '0' : (datum.value / 1000) + 'k'","title":null}},"y2":{"field":"hi"}}},
     {"transform":[{"filter":"datum.s == 'NEC'"}],"mark":{"type":"line","color":"#2ca02c","strokeWidth":3.5,"point":{"shape":"circle","filled":true,"color":"#2ca02c","size":95,"opacity":1}},"encoding":{"y":{"field":"y","type":"quantitative","scale":{"domain":[-1920,20630],"nice":false,"zero":false},"axis":{"orient":"left","values":[0,5000,10000,15000,20000],"labelExpr":"datum.value == 0 ? '0' : (datum.value / 1000) + 'k'","title":null}}}},
     {"transform":[{"filter":"datum.s == 'ASL'"}],"mark":{"type":"line","color":"#1f77b4","strokeWidth":3.5,"point":{"shape":"square","filled":true,"fill":"white","stroke":"#1f77b4","strokeWidth":1.8,"size":60,"opacity":1}},"encoding":{"y":{"field":"y","type":"quantitative","scale":{"domain":[-1920,20630],"nice":false,"zero":false},"axis":{"orient":"left","values":[0,5000,10000,15000,20000],"labelExpr":"datum.value == 0 ? '0' : (datum.value / 1000) + 'k'","title":null}}}}
    ]
   },
   {
    "layer":[
     {"transform":[{"filter":"datum.s == 'NAN'"}],"mark":{"type":"line","color":"#ff7f0e","strokeWidth":3,"point":{"shape":"circle","filled":false,"color":"#ff7f0e","strokeWidth":1.8,"size":90,"opacity":1}},
      "encoding":{"x":{"field":"x","type":"quantitative","scale":{"domain":[-1.9,32],"range":[58,294],"nice":false,"zero":false},"axis":{"orient":"top","offset":-52.5,"labels":false,"ticks":false,"title":null}},
                  "y":{"field":"y","type":"quantitative","scale":{"domain":[-3.9,26],"range":[160.5,52.5],"nice":false,"zero":false},"axis":{"orient":"right","offset":-233,"labels":false,"ticks":false,"title":null}}}},
     {"transform":[{"filter":"datum.s == 'ASL'"}],"mark":{"type":"line","color":"#1f77b4","strokeWidth":3,"point":{"shape":"square","filled":true,"fill":"white","stroke":"#1f77b4","strokeWidth":1.6,"size":32,"opacity":1}},
      "encoding":{"x":{"field":"x","type":"quantitative","scale":{"domain":[-1.9,32],"range":[58,294],"nice":false,"zero":false},"axis":{"orient":"bottom","offset":-141.5,"values":[0,5,10,15,20,25,30],"title":null}},
                  "y":{"field":"y","type":"quantitative","scale":{"domain":[-3.9,26],"range":[160.5,52.5],"nice":false,"zero":false},"axis":{"orient":"left","offset":-58,"values":[0,10,20],"title":null}}}}
    ],
    "resolve":{"axis":{"x":"independent","y":"independent"}}
   }
  ],
  "resolve":{"scale":{"x":"independent","y":"independent"},"axis":{"x":"independent","y":"independent"}}
 }
 ]
}
]
}
